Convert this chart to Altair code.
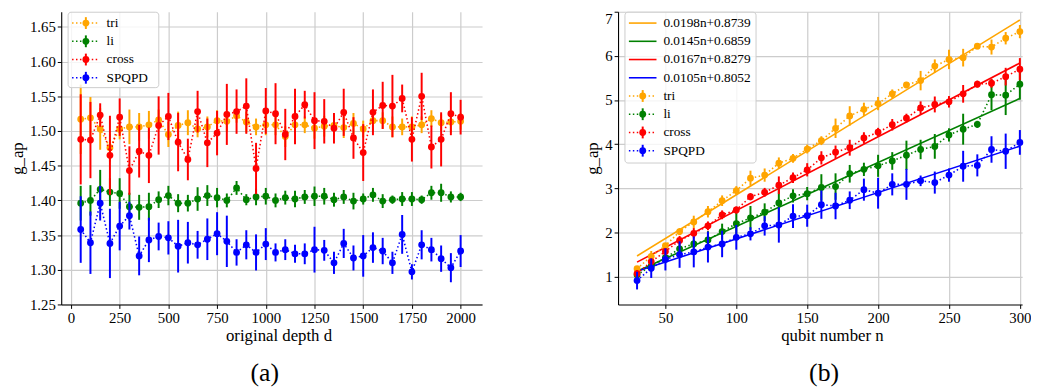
import altair as alt
import pandas as pd

# ---------------- data ----------------
series_names = ["tri", "li", "cross", "SPQPD"]
series_colors = ["#FFA500", "#008000", "#FF0000", "#0000FF"]

# panel (a): original depth d
depth = [50, 100, 150, 200, 250, 300, 350, 400, 450, 500, 550, 600, 650, 700, 750, 800,
         850, 900, 950, 1000, 1050, 1100, 1150, 1200, 1250, 1300, 1350, 1400, 1450, 1500,
         1550, 1600, 1650, 1700, 1750, 1800, 1850, 1900, 1950, 2000]

tri_a = [1.517, 1.519, 1.503, 1.476, 1.503, 1.506, 1.506, 1.509, 1.516, 1.495, 1.508, 1.512,
         1.503, 1.506, 1.515, 1.514, 1.522, 1.513, 1.506, 1.509, 1.509, 1.492, 1.509, 1.509,
         1.504, 1.507, 1.508, 1.505, 1.511, 1.503, 1.515, 1.515, 1.506, 1.506, 1.506, 1.509,
         1.518, 1.512, 1.513, 1.514]
tri_a_err = [0.05, 0.03, 0.03, 0.02, 0.015, 0.025, 0.02, 0.02, 0.015, 0.018, 0.02, 0.018,
             0.012, 0.015, 0.015, 0.015, 0.01, 0.015, 0.012, 0.015, 0.015, 0.015, 0.012, 0.012,
             0.015, 0.015, 0.015, 0.015, 0.015, 0.012, 0.015, 0.012, 0.015, 0.012, 0.015, 0.012,
             0.012, 0.012, 0.015, 0.012]

li_a = [1.396, 1.400, 1.416, 1.412, 1.410, 1.391, 1.390, 1.391, 1.401, 1.407, 1.396, 1.396,
        1.402, 1.407, 1.404, 1.400, 1.418, 1.401, 1.405, 1.406, 1.400, 1.404, 1.402, 1.405,
        1.406, 1.406, 1.401, 1.405, 1.399, 1.402, 1.408, 1.399, 1.401, 1.402, 1.402, 1.401,
        1.411, 1.411, 1.405, 1.405]
li_a_err = [0.025, 0.022, 0.028, 0.02, 0.022, 0.02, 0.018, 0.02, 0.012, 0.014, 0.013, 0.012,
            0.017, 0.015, 0.014, 0.01, 0.01, 0.008, 0.012, 0.012, 0.01, 0.01, 0.012, 0.01,
            0.014, 0.012, 0.01, 0.01, 0.012, 0.008, 0.01, 0.01, 0.006, 0.01, 0.01, 0.006,
            0.01, 0.013, 0.008, 0.006]

cross_a = [1.488, 1.487, 1.523, 1.465, 1.520, 1.443, 1.471, 1.465, 1.508, 1.521, 1.484, 1.459,
           1.528, 1.483, 1.497, 1.524, 1.528, 1.536, 1.446, 1.529, 1.525, 1.495, 1.521, 1.538,
           1.515, 1.514, 1.504, 1.527, 1.490, 1.469, 1.527, 1.537, 1.536, 1.547, 1.488, 1.550,
           1.477, 1.488, 1.525, 1.520]
cross_a_err = [0.065, 0.055, 0.017, 0.057, 0.027, 0.035, 0.038, 0.04, 0.042, 0.034, 0.042, 0.03,
               0.03, 0.035, 0.032, 0.044, 0.032, 0.04, 0.037, 0.033, 0.044, 0.037, 0.04, 0.02,
               0.041, 0.032, 0.022, 0.034, 0.03, 0.041, 0.033, 0.034, 0.045, 0.02, 0.032, 0.034,
               0.031, 0.039, 0.031, 0.025]

spqpd_a = [1.358, 1.339, 1.396, 1.338, 1.363, 1.378, 1.320, 1.343, 1.348, 1.346, 1.334, 1.339,
           1.336, 1.344, 1.352, 1.341, 1.325, 1.336, 1.325, 1.337, 1.325, 1.329, 1.323, 1.323,
           1.329, 1.328, 1.310, 1.338, 1.317, 1.320, 1.332, 1.327, 1.310, 1.351, 1.297, 1.336,
           1.329, 1.316, 1.303, 1.327]
spqpd_a_err = [0.048, 0.045, 0.025, 0.05, 0.035, 0.02, 0.028, 0.032, 0.02, 0.024, 0.038, 0.03,
               0.02, 0.03, 0.031, 0.037, 0.019, 0.021, 0.026, 0.023, 0.013, 0.015, 0.013, 0.015,
               0.033, 0.015, 0.016, 0.021, 0.018, 0.03, 0.022, 0.019, 0.016, 0.028, 0.011, 0.021,
               0.017, 0.019, 0.021, 0.023]

# panel (b): qubit number n
qubits = [30, 40, 50, 60, 70, 80, 90, 100, 110, 120, 130, 140, 150, 160, 170, 180, 190, 200,
          210, 220, 230, 240, 250, 260, 270, 280, 290, 300]

tri_b = [1.18, 1.46, 1.70, 2.02, 2.24, 2.47, 2.72, 2.95, 3.23, 3.30, 3.57, 3.68, 3.89, 4.08,
         4.36, 4.64, 4.79, 4.92, 5.14, 5.34, 5.44, 5.77, 5.92, 5.96, 6.22, 6.20, 6.40, 6.55]
tri_b_err = [0.05, 0.12, 0.06, 0.08, 0.14, 0.13, 0.12, 0.1, 0.17, 0.15, 0.13, 0.1, 0.1, 0.1,
             0.22, 0.22, 0.15, 0.15, 0.1, 0.07, 0.22, 0.15, 0.22, 0.2, 0.07, 0.17, 0.14, 0.15]

li_b = [1.04, 1.24, 1.43, 1.63, 1.74, 1.83, 2.02, 2.20, 2.33, 2.46, 2.67, 2.83, 2.88, 3.02,
        3.04, 3.33, 3.43, 3.51, 3.62, 3.75, 3.88, 3.95, 4.21, 4.34, 4.45, 5.12, 5.11, 5.36]
li_b_err = [0.1, 0.12, 0.1, 0.1, 0.1, 0.2, 0.18, 0.27, 0.27, 0.2, 0.4, 0.15, 0.15, 0.3,
            0.3, 0.2, 0.15, 0.25, 0.2, 0.33, 0.22, 0.28, 0.15, 0.35, 0.08, 0.35, 0.45, 0.35]

cross_b = [1.07, 1.34, 1.57, 1.82, 1.98, 2.15, 2.40, 2.51, 2.81, 2.91, 3.07, 3.24, 3.42, 3.69,
           3.82, 3.92, 4.14, 4.27, 4.44, 4.59, 4.82, 4.90, 4.96, 5.14, 5.36, 5.38, 5.53, 5.70]
cross_b_err = [0.08, 0.07, 0.08, 0.1, 0.12, 0.1, 0.1, 0.08, 0.08, 0.1, 0.2, 0.12, 0.15, 0.15,
               0.15, 0.18, 0.13, 0.1, 0.13, 0.1, 0.15, 0.18, 0.13, 0.2, 0.08, 0.1, 0.2, 0.25]

spqpd_b = [0.91, 1.19, 1.39, 1.50, 1.56, 1.67, 1.74, 1.89, 1.97, 2.15, 2.17, 2.37, 2.38, 2.63,
           2.60, 2.73, 2.97, 2.89, 3.09, 3.09, 3.17, 3.13, 3.30, 3.50, 3.52, 3.88, 3.84, 4.04]
spqpd_b_err = [0.2, 0.22, 0.25, 0.3, 0.35, 0.35, 0.3, 0.28, 0.15, 0.22, 0.4, 0.27, 0.25, 0.32,
               0.3, 0.2, 0.25, 0.35, 0.25, 0.35, 0.12, 0.25, 0.15, 0.35, 0.25, 0.3, 0.4, 0.28]

# fitted lines (as in the legend of panel b): endpoints at n = 30 and n = 300
fit_labels = ["0.0198n+0.8739", "0.0145n+0.6859", "0.0167n+0.8279", "0.0105n+0.8052"]
fit_n = [30, 300]
fit_start = [1.4679, 1.1209, 1.3289, 1.1202]
fit_end = [6.8139, 5.0359, 5.8379, 3.9552]

values_a = [tri_a, li_a, cross_a, spqpd_a]
errors_a = [tri_a_err, li_a_err, cross_a_err, spqpd_a_err]
values_b = [tri_b, li_b, cross_b, spqpd_b]
errors_b = [tri_b_err, li_b_err, cross_b_err, spqpd_b_err]

FONT = "'Liberation Serif', 'Times New Roman', Times, serif"

# ---------------- helpers ----------------
def make_enc(xdom, xticks, xtitle, xtitle_x, ydom, yticks, yfmt, flush):
    X = lambda f: alt.X(f"{f}:Q", scale=alt.Scale(domain=xdom, nice=False, zero=False),
                        axis=alt.Axis(values=xticks, title=xtitle, titleX=xtitle_x, format="d"))
    Y = lambda f: alt.Y(f"{f}:Q", scale=alt.Scale(domain=ydom, nice=False, zero=False),
                        axis=alt.Axis(values=yticks, title="g_ap", format=yfmt, labelFlush=flush))
    return X, Y


def series_layers(xs, ys, errs, color, X, Y):
    df = pd.DataFrame({
        "x": xs, "v": ys,
        "lo": [a - b for a, b in zip(ys, errs)],
        "hi": [a + b for a, b in zip(ys, errs)],
    })
    base = alt.Chart(df)
    line = base.mark_line(color=color, strokeDash=[1.5, 2.5], strokeWidth=1.6).encode(x=X("x"), y=Y("v"))
    bars = base.mark_rule(color=color, strokeWidth=2).encode(x=X("x"), y=Y("lo"), y2="hi:Q")
    pts = base.mark_circle(color=color, size=48, opacity=1).encode(x=X("x"), y=Y("v"))
    return [line, bars, pts]


one = pd.DataFrame({"k": [0]})


def legend_layers(entries, box):
    # entries: list of (kind, color, label); kind "fit" or "err"
    x0, x1, y0, y1 = box
    layers = [alt.Chart(one).mark_rect(fill="white", fillOpacity=0.8, stroke="#cccccc",
                                       strokeWidth=1, cornerRadius=3).encode(
        x=alt.value(x0), x2=alt.value(x1), y=alt.value(y0), y2=alt.value(y1))]
    for i, (kind, color, label) in enumerate(entries):
        yy = y0 + 11 + i * 18.5
        if kind == "fit":
            layers.append(alt.Chart(one).mark_rule(color=color, strokeWidth=1.6).encode(
                x=alt.value(x0 + 4), x2=alt.value(x0 + 32), y=alt.value(yy)))
        else:
            layers.append(alt.Chart(one).mark_rule(color=color, strokeWidth=1.6,
                                                   strokeDash=[1.5, 2.5]).encode(
                x=alt.value(x0 + 4), x2=alt.value(x0 + 32), y=alt.value(yy)))
            layers.append(alt.Chart(one).mark_rule(color=color, strokeWidth=2).encode(
                x=alt.value(x0 + 18), y=alt.value(yy - 6), y2=alt.value(yy + 6)))
            layers.append(alt.Chart(one).mark_circle(color=color, size=48, opacity=1).encode(
                x=alt.value(x0 + 18), y=alt.value(yy)))
        layers.append(alt.Chart(one).mark_text(text=label, align="left", baseline="middle",
                                               font=FONT, fontSize=13.5, color="black").encode(
            x=alt.value(x0 + 39), y=alt.value(yy)))
    return layers


# ---------------- panel (a) ----------------
WA, HA = 427, 297
Xa, Ya = make_enc([-50, 2110], [0, 250, 500, 750, 1000, 1250, 1500, 1750, 2000],
                  "original depth d", WA / 2 + 7,
                  [1.25, 1.672], [1.25, 1.30, 1.35, 1.40, 1.45, 1.50, 1.55, 1.60, 1.65], ".2f", False)
layers_a = []
for vals, errs, col in zip(values_a, errors_a, series_colors):
    layers_a += series_layers(depth, vals, errs, col, Xa, Ya)
layers_a += legend_layers([("err", c, n) for c, n in zip(series_colors, series_names)],
                          (7, 99, 0.5, 77))
panel_a = alt.layer(*layers_a).properties(
    width=WA, height=HA,
    title=alt.TitleParams("(a)", orient="bottom", anchor="middle", frame="group", dx=-7,
                          offset=17, fontSize=26, font=FONT, fontWeight="normal", color="black"))

# ---------------- panel (b) ----------------
WB, HB = 410, 297
Xb, Yb = make_enc([16.6, 301.6], [50, 100, 150, 200, 250, 300], "qubit number n", WB / 2 + 12,
                  [0.37, 7.0], [1, 2, 3, 4, 5, 6, 7], "d", True)
layers_b = []
for s, e, col in zip(fit_start, fit_end, series_colors):
    fdf = pd.DataFrame({"x": fit_n, "v": [s, e]})
    layers_b.append(alt.Chart(fdf).mark_line(color=col, strokeWidth=1.6).encode(x=Xb("x"), y=Yb("v")))
for vals, errs, col in zip(values_b, errors_b, series_colors):
    layers_b += series_layers(qubits, vals, errs, col, Xb, Yb)
entries_b = [("fit", c, l) for c, l in zip(series_colors, fit_labels)] + \
            [("err", c, n) for c, n in zip(series_colors, series_names)]
layers_b += legend_layers(entries_b, (7, 140, 0.5, 153.5))
panel_b = alt.layer(*layers_b).properties(
    width=WB, height=HB,
    title=alt.TitleParams("(b)", orient="bottom", anchor="middle", frame="group", dx=4,
                          offset=17, fontSize=26, font=FONT, fontWeight="normal", color="black"))

chart = alt.hconcat(panel_a, panel_b, spacing=138, bounds="flush").properties(
    padding=0
).configure_view(stroke=None).configure_axis(
    domainColor="black", domainWidth=1.1, tickColor="black", tickSize=4, tickWidth=1,
    labelFont=FONT, labelFontSize=15, labelColor="black", labelPadding=2,
    titleFont=FONT, titleFontSize=17, titleFontWeight="normal", titleColor="black",
    titlePadding=3, gridColor="#cccccc", gridWidth=1.2
)

chart.save("out.html", embed_options={"renderer": "svg", "actions": False})
